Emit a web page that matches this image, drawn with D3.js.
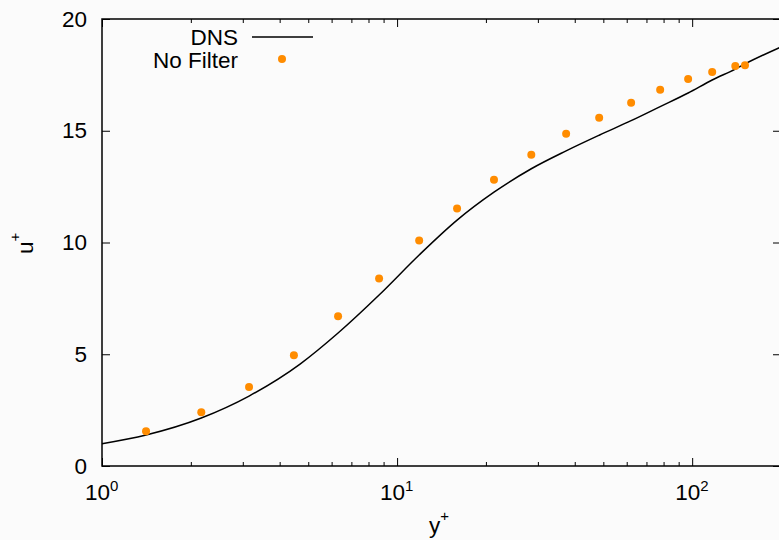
<!DOCTYPE html>
<html>
<head>
<meta charset="utf-8">
<script src="https://d3js.org/d3.v7.min.js"></script>
<style>
  body { margin: 0; background: #fbfbfb; }
  svg { display: block; font-family: "Liberation Sans", Arial, sans-serif; }
  .tick text { font-size: 22.5px; fill: #000; }
</style>
</head>
<body>
<div class="chart"></div>
<script>
// y+ / u+ for the DNS reference profile
var dnsY = [1, 1.41, 2.17, 3.15, 4.69, 6.31, 8.69, 11.88, 15.97, 21.3, 28.5, 37.4, 48.4, 62.1, 77.9, 96.9, 116.9, 140, 151, 200];
var dnsU = [1.0, 1.39, 2.15, 3.13, 4.56, 5.95, 7.65, 9.44, 11.0, 12.25, 13.3, 14.1, 14.8, 15.45, 16.08, 16.69, 17.27, 17.76, 17.99, 18.75];

// "No Filter" run
var nfY = [1.41, 2.17, 3.15, 4.47, 6.31, 8.69, 11.88, 15.97, 21.3, 28.5, 37.4, 48.4, 62.1, 77.9, 96.9, 116.9, 140, 151];
var nfU = [1.56, 2.41, 3.53, 4.96, 6.70, 8.39, 10.09, 11.52, 12.81, 13.93, 14.87, 15.58, 16.25, 16.83, 17.32, 17.63, 17.90, 17.93];

var yTicks = [0, 5, 10, 15, 20];
var xMajor = [1, 10, 100];
var xExp = ["0", "1", "2"];
var xMinor = [2,3,4,5,6,7,8,9,20,30,40,50,60,70,80,90,200];

var width = 779, height = 540;
var margin = {top: 19, right: -2, bottom: 74, left: 102};

var svg = d3.select(".chart").append("svg")
    .attr("width", width)
    .attr("height", height);

var x = d3.scaleLog()
    .domain([1, 200])
    .range([margin.left, width - margin.right]);

var y = d3.scaleLinear()
    .domain([0, 20])
    .range([height - margin.bottom, margin.top]);

var x0 = x.range()[0], x1 = x.range()[1], y0 = y.range()[0], y1 = y.range()[1];

// minor ticks bottom & top
svg.append('g')
    .attr('transform', 'translate(0,' + y0 + ')')
    .call(d3.axisBottom(x).tickValues(xMinor).tickSize(-4).tickFormat(''))
    .call(function(g){ g.select('.domain').remove(); });
svg.append('g')
    .attr('transform', 'translate(0,' + y1 + ')')
    .call(d3.axisTop(x).tickValues(xMinor).tickSize(-4).tickFormat(''))
    .call(function(g){ g.select('.domain').remove(); });

// major x ticks with 10^n labels
svg.append('g')
    .attr('transform', 'translate(0,' + y0 + ')')
    .call(d3.axisBottom(x).tickValues(xMajor).tickSize(-8).tickFormat(''))
    .call(function(g){ g.select('.domain').remove(); });
svg.append('g')
    .attr('transform', 'translate(0,' + y1 + ')')
    .call(d3.axisTop(x).tickValues(xMajor).tickSize(-8).tickFormat(''))
    .call(function(g){ g.select('.domain').remove(); });

var lab = svg.append('g').selectAll('text')
    .data(xMajor)
    .enter().append('text')
    .attr('x', function(d){ return x(d) - 17; })
    .attr('y', y0 + 34)
    .attr('font-size', 22.5);
lab.append('tspan').text('10');
lab.append('tspan')
    .attr('dy', -9)
    .attr('font-size', 15)
    .text(function(d, i){ return xExp[i]; });

// y ticks
svg.append('g')
    .attr('transform', 'translate(' + x0 + ',0)')
    .call(d3.axisLeft(y).tickValues(yTicks).tickSize(-8).tickPadding(15))
    .call(function(g){ g.select('.domain').remove(); });
svg.append('g')
    .attr('transform', 'translate(' + x1 + ',0)')
    .call(d3.axisRight(y).tickValues(yTicks).tickSize(-8).tickFormat(''))
    .call(function(g){ g.select('.domain').remove(); });

svg.selectAll('.tick line').attr('stroke', '#000').attr('stroke-width', 1);

// border
svg.append('rect')
    .attr('x', x0).attr('y', y1)
    .attr('width', x1 - x0).attr('height', y0 - y1)
    .attr('fill', 'none')
    .attr('stroke', '#000')
    .attr('stroke-width', 1.5);

// axis titles
var xt = svg.append('text')
    .attr('x', 429)
    .attr('y', 533)
    .attr('font-size', 22.5);
xt.append('tspan').text('y');
xt.append('tspan').attr('dy', -12).attr('font-size', 15).text('+');

var yt = svg.append('text')
    .attr('transform', 'translate(33,254) rotate(-90)')
    .attr('font-size', 22.5);
yt.append('tspan').text('u');
yt.append('tspan').attr('dy', -13).attr('font-size', 15).text('+');

// DNS line
var line = d3.line()
    .x(function(d){ return x(d[0]); })
    .y(function(d){ return y(d[1]); })
    .curve(d3.curveMonotoneX);

svg.append('path')
    .datum(dnsY.map(function(d, i){ return [d, dnsU[i]]; }))
    .attr('fill', 'none')
    .attr('stroke', '#000')
    .attr('stroke-width', 1.5)
    .attr('d', line);

// No Filter points
svg.append('g').selectAll('circle')
    .data(nfY.map(function(d, i){ return [d, nfU[i]]; }))
    .enter().append('circle')
    .attr('cx', function(d){ return x(d[0]); })
    .attr('cy', function(d){ return y(d[1]); })
    .attr('r', 4)
    .attr('fill', '#ff8c00');

// legend
var leg = svg.append('g').attr('font-size', 22.5).attr('text-anchor', 'end');
leg.append('text').attr('x', 238).attr('y', 45).text('DNS');
leg.append('line')
    .attr('x1', 252).attr('x2', 313).attr('y1', 37).attr('y2', 37)
    .attr('stroke', '#000').attr('stroke-width', 1.5);
leg.append('text').attr('x', 238).attr('y', 68).text('No Filter');
leg.append('circle').attr('cx', 282).attr('cy', 59).attr('r', 4).attr('fill', '#ff8c00');
</script>
</body>
</html>
